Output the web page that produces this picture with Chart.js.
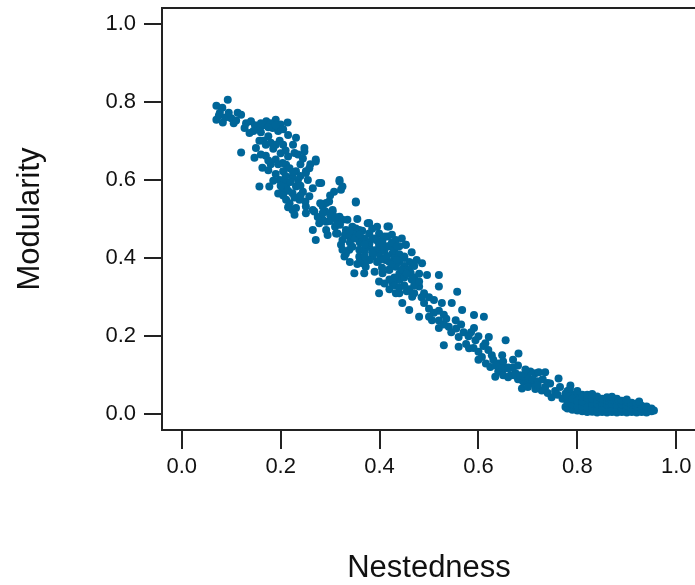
<!DOCTYPE html>
<html><head><meta charset="utf-8">
<script src="https://cdn.jsdelivr.net/npm/chart.js@4/dist/chart.umd.min.js"></script>
<style>html,body{margin:0;padding:0;background:#fff;overflow:hidden;width:695px;height:585px}#wrap{width:700px;height:585px}</style>
</head><body><div id="wrap"><canvas id="c" width="700" height="585"></canvas></div>
<script>
const xTitle = 'Nestedness';
const yTitle = 'Modularity';
const xTickValues = [0, 0.2, 0.4, 0.6, 0.8, 1.0];
const yTickValues = [0, 0.2, 0.4, 0.6, 0.8, 1.0];

// [nestedness, modularity] pairs
const upperArm = [
[.070,.790],[.093,.805],[.077,.772],[.070,.754],[.083,.747],[.113,.772],[.120,.767],[.140,.750],[.127,.733],[.137,.720],
[.075,.765],[.088,.760],[.100,.758],[.105,.745],[.095,.772],[.082,.785],[.110,.752],[.130,.745],[.148,.740],[.155,.735],
[.171,.750],[.190,.754],[.214,.747],[.184,.733],[.157,.700],[.198,.700],[.231,.708],[.248,.682],[.150,.682],[.120,.670],
[.147,.657],[.190,.652],[.211,.639],[.163,.631],[.231,.622],[.251,.618],[.157,.583],[.177,.583],[.198,.600],[.211,.583],
[.224,.566],[.211,.549],[.238,.549],[.224,.523],[.251,.532],[.228,.669],[.248,.673],[.204,.643],[.218,.630],[.251,.622],
[.208,.600],[.224,.609],[.204,.575],[.231,.583],[.245,.570],[.218,.540],[.231,.528],[.228,.511],[.251,.515],
[.165,.740],[.180,.745],[.200,.742],[.195,.725],[.175,.712],[.160,.722],[.205,.690],[.185,.680],[.170,.662],[.180,.640],
[.200,.668],[.215,.660],[.175,.625],[.190,.615],[.205,.622],[.185,.598],[.200,.585],[.215,.572],[.165,.700],[.180,.695],
[.215,.715],[.225,.690],[.235,.665],[.240,.640],[.220,.595],[.235,.600],[.240,.585],[.195,.565],[.205,.560],[.228,.555],
[.145,.725],[.160,.745],[.175,.735],[.190,.740],[.205,.730],[.170,.690],[.190,.690],[.210,.675],[.160,.665],[.175,.650],
[.195,.640],[.210,.610],[.225,.620],[.240,.610],[.245,.655],[.260,.640],[.255,.600],[.240,.560],[.250,.545],[.215,.530]
];
const middleBody = [
[.271,.647],[.258,.630],[.265,.579],[.282,.592],[.319,.596],[.308,.570],[.322,.575],[.352,.545],[.268,.519],[.285,.532],
[.298,.545],[.305,.519],[.278,.489],[.265,.472],[.292,.493],[.315,.493],[.335,.498],[.271,.446],[.295,.459],[.315,.463],
[.332,.472],[.352,.476],[.376,.489],[.359,.451],[.379,.463],[.399,.463],[.419,.481],[.416,.455],[.433,.446],[.322,.434],
[.339,.421],[.329,.404],[.359,.421],[.379,.429],[.399,.434],[.386,.404],[.366,.387],[.349,.361],[.369,.361],[.399,.412],
[.412,.395],[.426,.412],[.453,.434],[.450,.404],[.466,.387],[.406,.361],[.419,.370],[.399,.340],[.440,.344],[.399,.310],
[.433,.310],[.460,.318],[.473,.340],
[.271,.652],[.278,.592],[.319,.600],[.325,.583],[.292,.541],[.305,.523],[.285,.498],[.319,.506],[.292,.472],[.312,.463],
[.325,.446],[.332,.412],[.345,.429],[.265,.523],[.258,.558],
[.352,.542],[.325,.498],[.339,.455],[.359,.472],[.379,.490],[.416,.481],[.406,.446],[.453,.434],[.325,.421],[.359,.404],
[.372,.378],[.433,.378],[.426,.336],[.463,.362],[.486,.387],[.496,.357],[.440,.310],[.480,.327],[.466,.301],[.446,.285],
[.340,.440],[.350,.460],[.360,.440],[.370,.450],[.380,.440],[.390,.450],[.400,.430],[.410,.420],[.420,.430],[.430,.420],
[.440,.410],[.450,.400],[.460,.390],[.470,.380],[.440,.390],[.430,.400],[.420,.390],[.410,.400],[.420,.370],[.440,.360],
[.450,.380],[.460,.370],[.430,.350],[.450,.350],[.470,.350],[.480,.360],[.470,.330],[.460,.320],[.450,.330],[.430,.330],
[.420,.320],[.410,.335],[.480,.340],[.490,.310],[.300,.510],[.310,.480],[.290,.520],[.280,.540],[.300,.560],[.275,.505],
[.345,.480],[.355,.500],[.365,.470],[.385,.475],[.395,.480],[.370,.420],[.390,.420],[.380,.395],[.395,.390],[.405,.375],
[.390,.365],[.375,.395],[.355,.385],[.340,.390],[.410,.455],[.425,.460],[.440,.430],[.465,.415],[.475,.395],[.445,.450],
[.285,.515],[.300,.495],[.310,.505],[.320,.485],[.330,.460],[.340,.470],[.350,.450],[.360,.460],[.370,.435],[.385,.450],
[.395,.445],[.405,.440],[.415,.430],[.425,.440],[.435,.430],[.360,.400],[.370,.405],[.385,.415],[.400,.395],[.415,.405],
[.425,.385],[.435,.395],[.445,.370],[.455,.360],[.465,.345],[.440,.325],[.455,.315],[.470,.310],[.485,.300],[.420,.345]
];
const lowerSlope = [
[.520,.357],[.520,.327],[.557,.314],[.510,.293],[.526,.285],[.546,.285],[.567,.267],[.460,.267],[.480,.250],[.506,.241],
[.520,.221],[.540,.224],[.554,.241],[.591,.254],[.611,.250],[.591,.221],[.530,.177],[.560,.198],[.560,.173],[.581,.169],
[.594,.190],[.621,.198],[.614,.182],[.655,.190],[.607,.147],[.627,.151],[.648,.151],[.681,.156],[.624,.121],[.655,.118],
[.634,.096],[.675,.105],[.695,.100],[.715,.105],
[.500,.300],[.490,.285],[.500,.270],[.520,.265],[.530,.255],[.510,.260],[.500,.250],[.520,.240],[.530,.230],[.545,.210],
[.555,.220],[.570,.210],[.580,.200],[.575,.180],[.590,.170],[.600,.160],[.620,.165],[.630,.140],[.640,.130],[.650,.135],
[.660,.120],[.670,.120],[.665,.100],[.680,.090],[.690,.085],[.700,.080],
[.648,.118],[.661,.118],[.671,.100],[.692,.096],[.702,.092],[.722,.108],[.735,.108],[.688,.066],[.708,.079],[.728,.061],
[.745,.079],[.640,.110],[.650,.100],[.660,.095],[.685,.100],[.710,.090],[.720,.085],[.730,.090],[.740,.080],[.705,.110],
[.695,.115],[.700,.070],[.715,.065],[.720,.075],[.735,.070],[.740,.055],
[.535,.245],[.565,.230],[.585,.210],[.600,.200],[.610,.175],[.600,.140],[.615,.130],[.635,.125],[.670,.140],[.680,.125]
];
const tail = [
[.762,.092],[.748,.044],[.776,.053],[.786,.074],[.776,.019],[.755,.060],[.760,.050],[.765,.070],[.770,.040],[.780,.060],
[.790,.050],[.795,.035],[.800,.045],[.805,.030],[.810,.050],[.815,.040],[.820,.030],
[.780,.015],[.780,.030],[.780,.045],[.790,.012],[.790,.025],[.790,.040],[.800,.010],[.800,.022],[.800,.035],
[.810,.008],[.810,.020],[.810,.033],[.810,.045],[.820,.006],[.820,.018],[.820,.042],[.820,.050],
[.830,.007],[.830,.016],[.830,.028],[.830,.040],[.840,.005],[.840,.015],[.840,.027],[.840,.038],[.840,.046],
[.850,.006],[.850,.017],[.850,.029],[.850,.040],[.860,.005],[.860,.014],[.860,.025],[.860,.036],[.860,.044],
[.870,.006],[.870,.016],[.870,.027],[.870,.037],[.880,.005],[.880,.013],[.880,.024],[.880,.034],[.880,.040],
[.890,.006],[.890,.015],[.890,.026],[.890,.035],[.900,.005],[.900,.012],[.900,.022],[.900,.032],
[.910,.006],[.910,.015],[.910,.025],[.910,.030],[.920,.005],[.920,.012],[.920,.020],[.920,.028],
[.930,.006],[.930,.014],[.930,.022],[.940,.005],[.940,.012],[.940,.020],[.950,.008],[.950,.015],[.955,.010],
[.785,.065],[.800,.060],[.830,.052],[.870,.045],[.900,.038],[.925,.033]
];

const points = [...upperArm, ...middleBody, ...lowerSlope, ...tail].map(p => ({x: p[0], y: p[1]}));

const frame = {
  id: 'frame',
  afterDraw(chart) {
    const {ctx, chartArea: a} = chart;
    ctx.save();
    ctx.strokeStyle = '#222';
    ctx.lineWidth = 2;
    ctx.strokeRect(a.left, a.top, a.right - a.left, a.bottom - a.top);
    ctx.restore();
  }
};

const tickFont = {family: "'Liberation Sans', Arial, sans-serif", size: 22};
const titleFont = {family: "'Liberation Sans', Arial, sans-serif", size: 31};

new Chart(document.getElementById('c'), {
  type: 'scatter',
  data: {datasets: [{data: points, backgroundColor: '#006699', borderWidth: 0, pointRadius: 4, pointHoverRadius: 4}]},
  options: {
    responsive: false,
    animation: false,
    events: [],
    layout: {padding: {top: 8, right: 2, left: 0, bottom: 0}},
    plugins: {legend: {display: false}, tooltip: {enabled: false}},
    scales: {
      x: {
        type: 'linear', min: -0.04, max: 1.04,
        afterFit(s) { s.height = 155; s.paddingLeft = 0; s.paddingRight = 0; },
        afterBuildTicks(s) { s.ticks = xTickValues.map(v => ({value: v})); },
        ticks: {font: tickFont, color: '#111', padding: 5, maxRotation: 0, autoSkip: false, callback: v => Number(v).toFixed(1)},
        grid: {drawOnChartArea: false, drawTicks: true, tickLength: 19, color: '#222', lineWidth: 2},
        border: {display: false},
        title: {display: true, text: xTitle, font: titleFont, color: '#111', padding: {top: 0, bottom: -2}}
      },
      y: {
        type: 'linear', min: -0.04, max: 1.04,
        afterFit(s) { s.width = 162; s.paddingTop = 0; s.paddingBottom = 0; },
        afterBuildTicks(s) { s.ticks = yTickValues.map(v => ({value: v})); },
        ticks: {font: tickFont, color: '#111', padding: 8, autoSkip: false, callback: v => Number(v).toFixed(1)},
        grid: {drawOnChartArea: false, drawTicks: true, tickLength: 18, color: '#222', lineWidth: 2},
        border: {display: false},
        title: {display: true, text: yTitle, font: titleFont, color: '#111', padding: {top: 12, bottom: 0}}
      }
    }
  },
  plugins: [frame]
});
</script>
</body></html>
